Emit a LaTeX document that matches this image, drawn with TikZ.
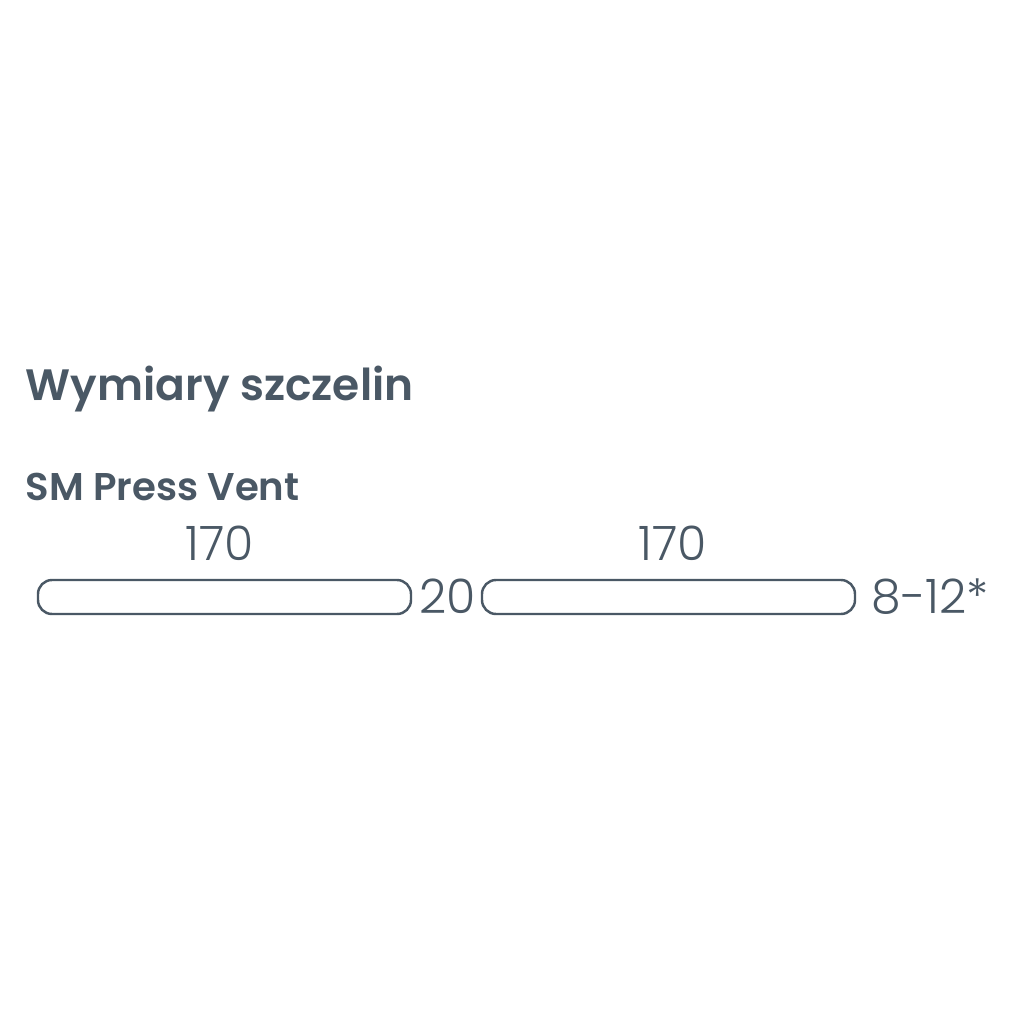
\documentclass[tikz,border=0pt]{standalone}
\usepackage{fontspec}
\setmainfont{Poppins}[BoldFont={Poppins SemiBold}]
\newfontfamily\numfont{Poppins Light}
\usepackage{tikz}
\definecolor{slate}{HTML}{4A5865}
\tikzset{
    every node/.style={inner sep=0mm, text=slate},
    slot/.style={draw=slate, line width=0.7pt, rounded corners=1.4mm,
        minimum width=3.73cm, minimum height=0.34cm},
    dim/.style={font=\numfont\fontsize{13.5}{14}\selectfont},
}

\begin{document}
\begin{tikzpicture}
    \fill[white] (0cm, 0cm) rectangle (10.24cm, -10.24cm);
    \useasboundingbox (0cm, 0cm) rectangle (10.24cm, -10.24cm);

    \node (title) [anchor=base west, font=\bfseries\fontsize{12.5}{15}\selectfont] at (0.25cm, -4.00cm) {Wymiary szczelin};
    \node (sub) [anchor=base west, font=\bfseries\fontsize{11.0}{13}\selectfont] at (0.25cm, -5.00cm) {SM Press Vent};

    \node (slot1) [slot] at (2.245cm, -5.97cm) {};
    \node (slot2) [slot] at (6.685cm, -5.97cm) {};

    \node (len1) [dim, anchor=base] at (2.20cm, -5.60cm) {170};
    \node (len2) [dim, anchor=base] at (6.73cm, -5.60cm) {170};
    \node (gap) [dim, anchor=base west] at (4.19cm, -6.13cm) {20};
    \node (tol) [dim, anchor=base west] at (8.71cm, -6.13cm) {8-12*};
\end{tikzpicture}
\end{document}
